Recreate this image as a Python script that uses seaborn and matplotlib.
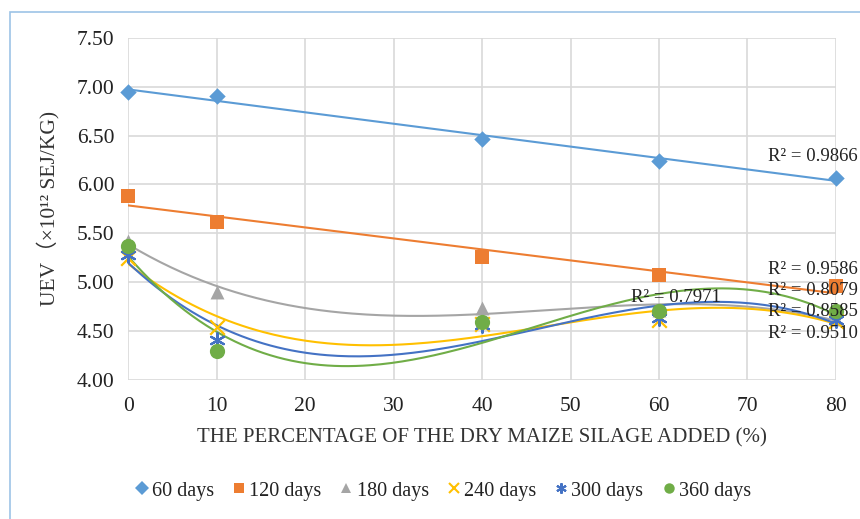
import matplotlib
matplotlib.use("Agg")
import matplotlib.pyplot as plt
import numpy as np
import pandas as pd
import seaborn as sns
from matplotlib.lines import Line2D
from matplotlib.patches import Rectangle

# data
pct = [0, 10, 40, 60, 80]
d60 = [6.95, 6.91, 6.47, 6.24, 6.07]
d120 = [5.88, 5.62, 5.26, 5.07, 4.96]
d180 = [5.42, 4.90, 4.74, 4.72, 4.62]
d240 = [5.25, 4.54, 4.57, 4.61, 4.60]
d300 = [5.28, 4.41, 4.56, 4.63, 4.61]
d360 = [5.37, 4.30, 4.59, 4.71, 4.71]

names = ["60 days", "120 days", "180 days", "240 days", "300 days", "360 days"]
series = [d60, d120, d180, d240, d300, d360]
colors = ["#5B9BD5", "#ED7D31", "#A5A5A5", "#FFC000", "#4472C4", "#70AD47"]
markers = ["D", "s", "^", "x", (6, 2, 0), "o"]
sizes = [70, 110, 100, 110, 110, 120]
orders = [1, 1, 3, 3, 3, 3]

r2_labels = ["R² = 0.9866", "R² = 0.9586", "R² = 0.8079",
             "R² = 0.8585", "R² = 0.9510", "R² = 0.7971"]
r2_pos = [(72.3, 6.29), (72.3, 5.13), (72.3, 4.91),
          (72.3, 4.70), (72.3, 4.48), (56.8, 4.84)]

sns.set_theme(style="whitegrid")
plt.rcParams["font.family"] = ["Liberation Serif", "Noto Sans CJK SC"]
plt.rcParams["axes.unicode_minus"] = False

fig = plt.figure(figsize=(8.6, 5.19), dpi=100)
ax = fig.add_axes([0.149, 0.268, 0.823, 0.659])

xs = np.linspace(0, 80, 200)
for name, vals, c, m, s, o in zip(names, series, colors, markers, sizes, orders):
    coef = np.polyfit(pct, vals, o)
    trend = pd.DataFrame({"x": xs, "y": np.polyval(coef, xs)})
    sns.lineplot(data=trend, x="x", y="y", color=c, lw=1.5, ax=ax, zorder=2)
for name, vals, c, m, s, o in zip(names, series, colors, markers, sizes, orders):
    pts = pd.DataFrame({"x": pct, "y": vals})
    lw = 1.6 if m in ("x", (6, 2, 0)) else 0
    sns.scatterplot(data=pts, x="x", y="y", color=c, marker=m, s=s,
                    linewidth=lw, edgecolor=c, ax=ax, zorder=3, clip_on=False)

for lab, (tx, ty) in zip(r2_labels, r2_pos):
    ax.text(tx, ty, lab, fontsize=13.5, color="#222222", va="center",
            ha="left", clip_on=False, zorder=4)

ax.set_xlim(0, 80)
ax.set_ylim(4.0, 7.5)
ax.set_xticks(range(0, 81, 10))
ax.set_yticks(np.arange(4.0, 7.51, 0.5))
ax.set_yticklabels([f"{v:.2f}" for v in np.arange(4.0, 7.51, 0.5)])
ax.grid(True, color="#D9D9D9", lw=1.2)
for sp in ax.spines.values():
    sp.set_visible(False)
ax.tick_params(axis="both", labelsize=15.5, colors="#222222", length=5,
               color="#D9D9D9", width=1.2, pad=5)
ax.tick_params(axis="x", pad=7)
ax.set_xlabel("THE PERCENTAGE OF THE DRY MAIZE SILAGE ADDED (%)",
              fontsize=15, color="#333333", labelpad=9)
ax.set_ylabel("UEV（×10¹² SEJ/KG)", fontsize=15.5, color="#333333", labelpad=12)

handles = [Line2D([0], [0], ls="none", marker=m, color=c, markersize=7.5,
                  markeredgewidth=1.5 if m in ("x", (6, 2, 0)) else 0)
           for c, m in zip(colors, markers)]
fig.legend(handles, names, loc="center", bbox_to_anchor=(0.513, 0.054),
           ncol=6, frameon=False, fontsize=14.5, handletextpad=0.0,
           columnspacing=0.75, handlelength=1.0, labelcolor="#222222")

fig.patches.append(Rectangle((0.0116, -0.1), 1.1, 1.077, transform=fig.transFigure,
                             fill=False, edgecolor="#9DC3E6", lw=1.2))

fig.savefig("out.png", dpi=100)
